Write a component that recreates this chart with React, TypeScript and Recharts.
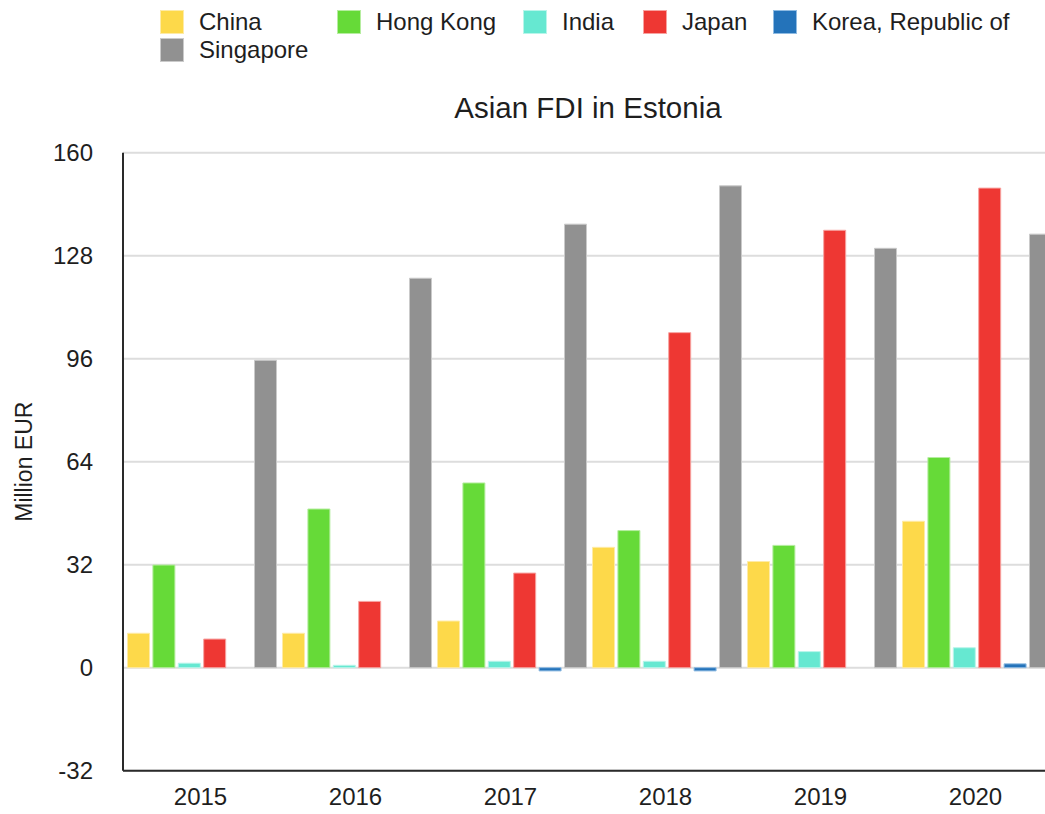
import { BarChart, Bar, XAxis, YAxis, CartesianGrid } from "recharts";

const years = ["2015", "2016", "2017", "2018", "2019", "2020"];
const china = [10.7, 10.7, 14.5, 37.4, 33.0, 45.5];
const hongKong = [31.9, 49.3, 57.4, 42.6, 38.0, 65.3];
const india = [1.4, 0.75, 2.0, 2.0, 5.0, 6.2];
const japan = [8.9, 20.6, 29.4, 104.1, 135.9, 149.0];
const korea = [0, 0, -1.0, -1.0, 0, 1.2];
const singapore = [95.5, 121.0, 137.8, 149.7, 130.3, 134.7];
const yTicks = [-32, 0, 32, 64, 96, 128, 160];

const SERIES = [
  { key: "china", name: "China", fill: "#fdd94a", stroke: "#feeba6" },
  { key: "hongKong", name: "Hong Kong", fill: "#66da38", stroke: "#b6eda0" },
  { key: "india", name: "India", fill: "#66e8d1", stroke: "#b8f5ea" },
  { key: "japan", name: "Japan", fill: "#ee3733", stroke: "#f7a3a1" },
  { key: "korea", name: "Korea, Republic of", fill: "#2473ba", stroke: "#8fbbe2" },
  { key: "singapore", name: "Singapore", fill: "#919191", stroke: "#cacaca" },
];

const data = years.map((year, i) => ({
  year,
  china: china[i],
  hongKong: hongKong[i],
  india: india[i],
  japan: japan[i],
  korea: korea[i],
  singapore: singapore[i],
}));

// swatch positions for the two legend rows
const LEGEND_POS = [
  { left: 160, top: 10 },
  { left: 337, top: 10 },
  { left: 523, top: 10 },
  { left: 643, top: 10 },
  { left: 773, top: 10 },
  { left: 160, top: 38 },
];

const FONT = '"Liberation Sans", Arial, Helvetica, sans-serif';
const INK = "#1e1e1e";

function YLabel(props: any) {
  const vb = props.viewBox || {};
  const cx = 24;
  const cy = vb.y + vb.height / 2;
  return (
    <text
      x={cx}
      y={cy}
      transform={`rotate(-90 ${cx} ${cy})`}
      textAnchor="middle"
      dominantBaseline="central"
      fontSize={23}
      fontFamily={FONT}
      fill={INK}
    >
      Million EUR
    </text>
  );
}

export default function App() {
  return (
    <div
      style={{
        position: "fixed",
        left: 0,
        top: 0,
        width: 1045,
        height: 814,
        overflow: "hidden",
        background: "#fff",
        fontFamily: FONT,
        color: INK,
      }}
    >
      {SERIES.map((s, i) => (
        <div
          key={s.key}
          style={{
            position: "absolute",
            left: LEGEND_POS[i].left,
            top: LEGEND_POS[i].top,
            display: "flex",
            alignItems: "flex-start",
            whiteSpace: "nowrap",
          }}
        >
          <div style={{ width: 24, height: 24, background: s.fill, border: `1px solid ${s.stroke}`, boxSizing: "border-box" }} />
          <span style={{ marginLeft: 15, fontSize: 24, lineHeight: "28px", marginTop: -2 }}>{s.name}</span>
        </div>
      ))}

      <div
        style={{
          position: "absolute",
          left: 388,
          width: 400,
          top: 93,
          textAlign: "center",
          fontSize: 29.5,
          lineHeight: "30px",
        }}
      >
        Asian FDI in Estonia
      </div>

      <div style={{ position: "absolute", left: 0, top: 0 }}>
        <BarChart
          width={1053}
          height={814}
          data={data}
          margin={{ top: 152.7, right: 0, bottom: 0, left: 0 }}
          barCategoryGap={4.5}
          barGap={3.4}
        >
          <CartesianGrid vertical={false} stroke="#dddddd" strokeWidth={2} />
          <XAxis
            dataKey="year"
            height={43.3}
            tickLine={false}
            tickSize={0}
            tickMargin={17}
            axisLine={{ stroke: "#2a2a2a", strokeWidth: 2 }}
            tick={{ fontSize: 24, fill: INK, fontFamily: FONT }}
          />
          <YAxis
            width={123}
            domain={[-32, 160]}
            ticks={yTicks}
            interval={0}
            allowDataOverflow
            tickLine={false}
            tickSize={0}
            tickMargin={30}
            axisLine={{ stroke: "#2a2a2a", strokeWidth: 2 }}
            tick={{ fontSize: 24, fill: INK, fontFamily: FONT }}
            label={<YLabel />}
          />
          {SERIES.map((s) => (
            <Bar
              key={s.key}
              dataKey={s.key}
              name={s.name}
              fill={s.fill}
              stroke={s.stroke}
              strokeWidth={1}
              isAnimationActive={false}
            />
          ))}
        </BarChart>
      </div>
    </div>
  );
}
